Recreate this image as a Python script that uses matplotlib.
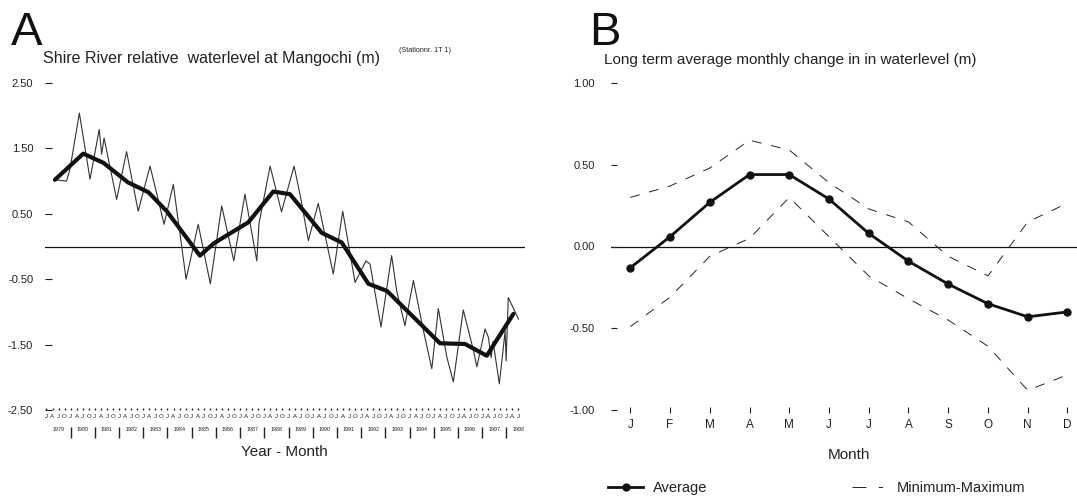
import matplotlib
matplotlib.use('Agg')
import matplotlib.pyplot as plt
from matplotlib.lines import Line2D
from matplotlib import font_manager

plt.rcParams['lines.scale_dashes'] = False
names = {f.name for f in font_manager.fontManager.ttflist}
MAIN = 'Liberation Sans' if 'Liberation Sans' in names else 'DejaVu Sans'
NARROW = 'Liberation Sans Narrow' if 'Liberation Sans Narrow' in names else MAIN
plt.rcParams['font.family'] = [MAIN, 'DejaVu Sans']

W, H = 1077, 497

# ---------------- Panel A data ----------------
monthly_t = [1979.35, 1979.83, 1979.97, 1980.36, 1980.80, 1981.18, 1981.28, 1981.38,
             1981.90, 1982.31, 1982.79, 1983.28, 1983.86, 1984.24, 1984.77, 1985.27,
             1985.77, 1986.24, 1986.74, 1987.20, 1987.69, 1987.78, 1988.24, 1988.71,
             1989.23, 1989.50, 1989.82, 1990.23, 1990.85, 1991.24, 1991.75, 1992.20,
             1992.37, 1992.82, 1993.26, 1993.47, 1993.81, 1994.16, 1994.57, 1994.92,
             1995.19, 1995.54, 1995.81, 1996.22, 1996.64, 1996.78, 1997.12, 1997.26,
             1997.37, 1997.45, 1997.71, 1997.95, 1997.99, 1998.08, 1998.50]
monthly_level = [1.02, 1.00, 1.18, 2.04, 1.03, 1.79, 1.41, 1.66,
                 0.72, 1.45, 0.54, 1.23, 0.34, 0.95, -0.50, 0.34,
                 -0.57, 0.62, -0.22, 0.80, -0.22, 0.35, 1.23, 0.53,
                 1.23, 0.75, 0.09, 0.66, -0.42, 0.54, -0.55, -0.22,
                 -0.27, -1.23, -0.14, -0.68, -1.21, -0.52, -1.28, -1.87,
                 -0.95, -1.69, -2.07, -0.97, -1.59, -1.84, -1.26, -1.39,
                 -1.70, -1.45, -2.10, -1.29, -1.75, -0.78, -1.11]
trend_t = [1979.35, 1980.52, 1981.35, 1982.37, 1983.21, 1983.97, 1985.34, 1985.92,
           1987.34, 1988.37, 1989.06, 1989.75, 1990.37, 1991.20, 1992.30, 1993.07,
           1995.26, 1996.29, 1997.19, 1998.29]
trend_level = [1.02, 1.42, 1.28, 0.98, 0.83, 0.54, -0.14, 0.05,
               0.37, 0.84, 0.80, 0.49, 0.21, 0.06, -0.57, -0.68,
               -1.48, -1.49, -1.67, -1.03]
years = list(range(1979, 1999))
quarter_letters = ['J', 'A', 'J', 'O']
a_yticks = [2.5, 1.5, 0.5, -0.5, -1.5, -2.5]

# ---------------- Panel B data ----------------
months = ['J', 'F', 'M', 'A', 'M', 'J', 'J', 'A', 'S', 'O', 'N', 'D']
avg_change = [-0.13, 0.06, 0.27, 0.44, 0.44, 0.29, 0.08, -0.09, -0.23, -0.35, -0.43, -0.40]
max_change = [0.30, 0.37, 0.48, 0.65, 0.59, 0.39, 0.23, 0.15, -0.06, -0.18, 0.15, 0.265]
min_change = [-0.49, -0.31, -0.06, 0.05, 0.30, 0.06, -0.18, -0.32, -0.45, -0.61, -0.88, -0.785]
b_yticks = [1.0, 0.5, 0.0, -0.5, -1.0]


def fx(px):
    return px / W


def fy(py):
    return 1 - py / H


fig = plt.figure(figsize=(W / 100, H / 100), dpi=100)
fig.patch.set_facecolor('white')
TXT = '#222222'

# ================= Panel A =================
axA = fig.add_axes([fx(45), fy(410), 480 / W, 327 / H])
axA.set_xlim(1978.94, 1998.77)
axA.set_ylim(-2.5, 2.5)
for s in axA.spines.values():
    s.set_visible(False)
axA.axhline(0, color='#111111', lw=0.9, zorder=1)
axA.plot(monthly_t, monthly_level, color='#333333', lw=0.8, zorder=2, clip_on=False)
axA.plot(trend_t, trend_level, color='#111111', lw=3.0, zorder=3,
         solid_joinstyle='round', solid_capstyle='round', clip_on=False)

axA.set_yticks(a_yticks)
axA.set_yticklabels(['%.2f' % v for v in a_yticks], fontsize=8, family=NARROW)
axA.tick_params(axis='y', direction='in', length=5, width=0.8, pad=8.5, colors=TXT)

qpos, qlab = [], []
for y in years:
    for q, l in enumerate(quarter_letters):
        p = y + q * 0.25
        if p <= monthly_t[-1] + 0.05:
            qpos.append(p)
            qlab.append(l)
axA.set_xticks(qpos)
axA.set_xticklabels(qlab, fontsize=4.4)
axA.tick_params(axis='x', direction='in', length=1.5, width=1.0, pad=3, colors=TXT)

trans = axA.get_xaxis_transform()
axA.vlines(years[1:], -0.052, -0.085, transform=trans, color=TXT, lw=1.0, clip_on=False)
for y in years:
    axA.text(y + 0.5, -0.059, str(y), transform=trans, fontsize=3.9, ha='center', va='center',
             color=TXT)

fig.text(fx(284), fy(452), 'Year - Month', fontsize=11, ha='center', va='center', color=TXT)
fig.text(fx(43), fy(59), 'Shire River relative  waterlevel at Mangochi (m)', fontsize=11.5,
         ha='left', va='center', color=TXT)
fig.text(fx(399), fy(51), '(Stationnr. 1T 1)', fontsize=5.2, ha='left', va='center', color=TXT)
fig.text(fx(11), fy(45), 'A', fontsize=34, ha='left', va='baseline', color='#111111')

# ================= Panel B =================
axB = fig.add_axes([fx(611), fy(410), 466 / W, 327 / H])
axB.set_xlim(0.514, 12.24)
axB.set_ylim(-1.0, 1.0)
for s in axB.spines.values():
    s.set_visible(False)
xm = list(range(1, len(months) + 1))
axB.axhline(0, color='#111111', lw=0.9, zorder=1)
axB.plot(xm, max_change, color='#222222', lw=0.7, dashes=(7, 7), zorder=2, clip_on=False)
axB.plot(xm, min_change, color='#222222', lw=0.7, dashes=(7, 7), zorder=2, clip_on=False)
axB.plot(xm, avg_change, color='#111111', lw=2.0, marker='o', ms=5, zorder=3, clip_on=False)

axB.set_yticks(b_yticks)
axB.set_yticklabels(['%.2f' % v for v in b_yticks], fontsize=8, family=NARROW)
axB.tick_params(axis='y', direction='in', length=4.5, width=0.8, pad=11.5, colors=TXT)
axB.set_xticks(xm)
axB.set_xticklabels(months, fontsize=8.5)
axB.tick_params(axis='x', direction='inout', length=5, width=0.8, pad=4, colors=TXT)

fig.text(fx(849), fy(455), 'Month', fontsize=11, ha='center', va='center', color=TXT)
fig.text(fx(604), fy(60), 'Long term average monthly change in in waterlevel (m)', fontsize=11,
         ha='left', va='center', color=TXT)
fig.text(fx(589), fy(45), 'B', fontsize=34, ha='left', va='baseline', color='#111111')

h_avg = Line2D([], [], color='#111111', lw=2.0, marker='o', ms=5)
h_mm = Line2D([], [], color='#222222', lw=0.7, dashes=(10, 9, 3, 40))
fig.legend([h_avg, h_mm], ['Average', 'Minimum-Maximum'], ncol=2, frameon=False,
           loc='center left', bbox_to_anchor=(fx(608), fy(488)), borderpad=0,
           borderaxespad=0, handlelength=2.4, handletextpad=0.7, columnspacing=9.9,
           fontsize=10.5, labelcolor=TXT)

fig.savefig('out.png', dpi=100, facecolor='white')
